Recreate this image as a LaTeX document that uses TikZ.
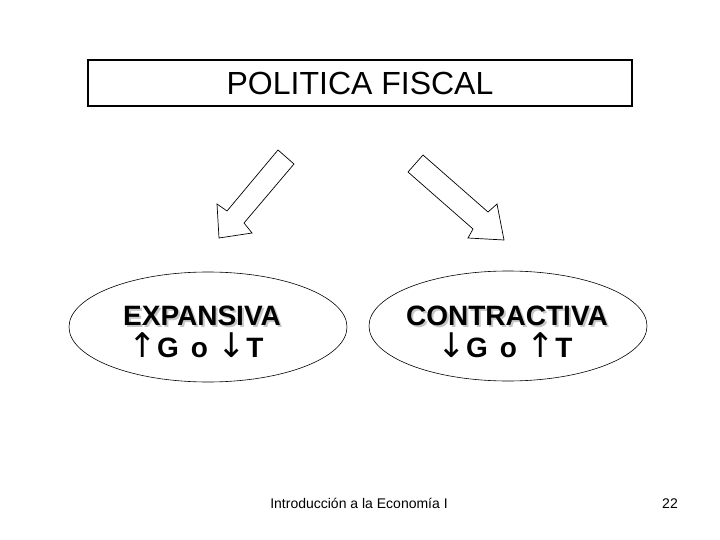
\documentclass[tikz,border=0pt]{standalone}
\usepackage{fontspec}
\setmainfont{Liberation Sans}
\newfontfamily\arrowfont{DejaVu Sans}
\usetikzlibrary{shapes.geometric}
\tikzset{
  titlebox/.style={draw, line width=2pt, minimum width=544pt, minimum height=46pt, inner sep=0pt, font=\fontsize{32}{36}\selectfont},
  policy/.style={draw, ellipse, line width=0.6pt, minimum width=278pt, minimum height=110pt},
  policytext/.style={font=\bfseries\fontsize{28}{32}\selectfont, anchor=base, inner sep=0pt},
  bigarrow/.style={draw, fill=white, line width=0.7pt, line join=miter},
  footer/.style={font=\fontsize{14}{16}\selectfont, anchor=base, inner sep=0pt}
}
\newcommand{\up}{{\arrowfont\mdseries\fontsize{34}{40}\selectfont ↑}}
\newcommand{\down}{{\arrowfont\mdseries\fontsize{34}{40}\selectfont ↓}}
\newcommand{\shadowed}[1]{\rlap{\kern2pt\raisebox{-2pt}{\color{black!22}#1}}#1}
\begin{document}
\begin{tikzpicture}[x=1pt, y=-1pt]
    \useasboundingbox[fill=white] (0,0) rectangle (720,540);

    % Title
    \node[titlebox] (title) at (360,83) {POLITICA FISCAL};

    % Block arrows
    \draw[bigarrow] (278,150) -- (294,164) -- (244,223) -- (252,233)
        -- (219,238) -- (217,204) -- (227,211) -- cycle;
    \draw[bigarrow] (423,155) -- (488,212) -- (497,204) -- (504,240)
        -- (468,238) -- (473,229) -- (408,172) -- cycle;

    % Expansive policy
    \node[policy] (expansiva) at (208,327) {};
    \node[policytext] (expname) at (202,325) {\shadowed{EXPANSIVA}};
    \node[policytext] (exprule) at (196,357) {\up G\hspace{12pt}o\hspace{10pt}\down T};

    % Contractive policy
    \node[policy] (contractiva) at (508,326) {};
    \node[policytext] (conname) at (507,325) {\shadowed{CONTRACTIVA}};
    \node[policytext] (conrule) at (505,357) {\down G\hspace{12pt}o\hspace{10pt}\up T};

    % Footer
    \node[footer] (course) at (359,508) {Introducción a la Economía I};
    \node[footer] (page) at (670,508) {22};
\end{tikzpicture}
\end{document}
